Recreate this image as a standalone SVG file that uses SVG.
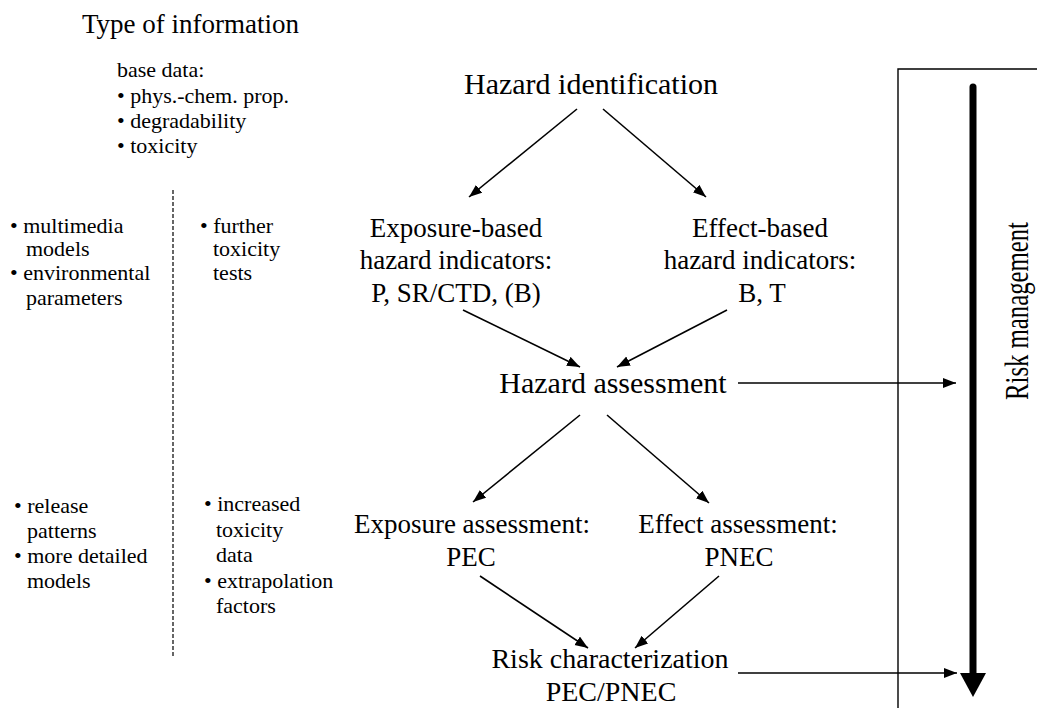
<svg xmlns="http://www.w3.org/2000/svg" width="1037" height="708" viewBox="0 0 1037 708">
<style>
text { font-family: "Liberation Serif", "Times New Roman", serif; fill: #000; }
.h { font-size: 30px; text-anchor: middle; }
.m { font-size: 27px; text-anchor: middle; }
.s { font-size: 22px; }
.t { font-size: 27px; }
.c { stroke: #000; stroke-width: 1.6; fill: none; marker-end: url(#ah); }
</style>
<defs>
<marker id="ah" markerUnits="userSpaceOnUse" markerWidth="14" markerHeight="12" refX="13" refY="5" orient="auto">
<path d="M0,0 L13,5 L0,10 Z" fill="#000"/>
</marker>
</defs>
<g id="info-column">
<text class="t" x="82" y="33">Type of information</text>
<text class="s" x="117" y="77">base data:</text>
<text class="s" x="117" y="103">• phys.-chem. prop.</text>
<text class="s" x="117" y="128">• degradability</text>
<text class="s" x="117" y="153">• toxicity</text>
<line x1="173" y1="190" x2="173" y2="657" stroke="#000" stroke-width="1.2" stroke-dasharray="4,2"/>
<text class="s" x="10" y="233">• multimedia</text>
<text class="s" x="26" y="256">models</text>
<text class="s" x="10" y="280">• environmental</text>
<text class="s" x="26" y="305">parameters</text>
<text class="s" x="200" y="233">• further</text>
<text class="s" x="213" y="256">toxicity</text>
<text class="s" x="213" y="280">tests</text>
<text class="s" x="14" y="513">• release</text>
<text class="s" x="27" y="538">patterns</text>
<text class="s" x="14" y="563">• more detailed</text>
<text class="s" x="27" y="588">models</text>
<text class="s" x="204" y="511">• increased</text>
<text class="s" x="216" y="537">toxicity</text>
<text class="s" x="216" y="562">data</text>
<text class="s" x="204" y="588">• extrapolation</text>
<text class="s" x="216" y="613">factors</text>
</g>
<g id="hazard-identification"><text class="h" x="591" y="94">Hazard identification</text></g>
<g id="exposure-indicators">
<text class="m" x="456" y="237">Exposure-based</text>
<text class="m" x="456" y="269">hazard indicators:</text>
<text class="m" x="456" y="302">P, SR/CTD, (B)</text>
</g>
<g id="effect-indicators">
<text class="m" x="760" y="237">Effect-based</text>
<text class="m" x="760" y="269">hazard indicators:</text>
<text class="m" x="762" y="302">B, T</text>
</g>
<g id="hazard-assessment"><text class="h" x="613" y="393">Hazard assessment</text></g>
<g id="exposure-assessment">
<text class="m" x="472" y="533">Exposure assessment:</text>
<text class="m" x="471" y="566">PEC</text>
</g>
<g id="effect-assessment">
<text class="m" x="738" y="533">Effect assessment:</text>
<text class="m" x="739" y="566">PNEC</text>
</g>
<g id="risk-characterization">
<text class="m" x="610" y="668" style="font-size:28px">Risk characterization</text>
<text class="m" x="611" y="701" style="font-size:28px">PEC/PNEC</text>
</g>
<g id="risk-management">
<polyline points="898,708 898,69 1037,69" fill="none" stroke="#000" stroke-width="1.4"/>
<line x1="973" y1="87" x2="973" y2="675" stroke="#000" stroke-width="7" stroke-linecap="round"/>
<path d="M960,673 L986,673 L973,697 Z" fill="#000"/>
<text x="1028" y="311" text-anchor="middle" transform="rotate(-90 1028 311)" style="font-size:34px" textLength="178" lengthAdjust="spacingAndGlyphs">Risk management</text>
</g>
<g id="connectors">
<line class="c" x1="577" y1="109" x2="469" y2="197"/>
<line class="c" x1="603" y1="109" x2="706" y2="197"/>
<line class="c" x1="463" y1="310" x2="580" y2="367"/>
<line class="c" x1="727" y1="310" x2="617" y2="367"/>
<line class="c" x1="738" y1="383" x2="956" y2="383"/>
<line class="c" x1="580" y1="415" x2="473" y2="502"/>
<line class="c" x1="607" y1="415" x2="709" y2="503"/>
<line class="c" x1="480" y1="576" x2="588" y2="648"/>
<line class="c" x1="719" y1="576" x2="635" y2="648"/>
<line class="c" x1="738" y1="673" x2="957" y2="673"/>
</g>
</svg>
